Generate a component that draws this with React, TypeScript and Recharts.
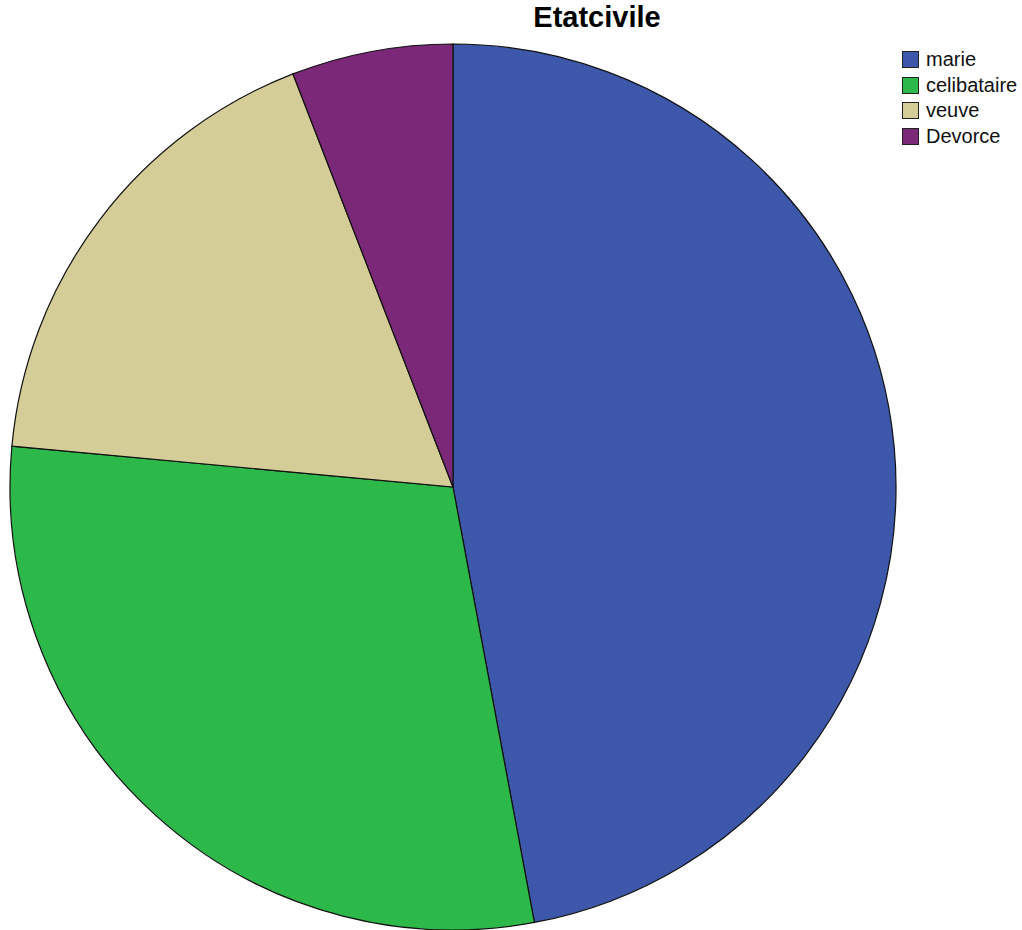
import { PieChart, Pie, Cell } from 'recharts';

const categories = ['marie', 'celibataire', 'veuve', 'Devorce'];
const counts = [40, 25, 15, 5];
const colors = ['#3D58AA', '#2DB84A', '#D4CD98', '#7B2878'];

const data = categories.map((name, i) => ({ name, value: counts[i] }));

const Legend = () => (
  <div style={{ position: 'absolute', left: 902, top: 47 }}>
    {categories.map((name, i) => (
      <div
        key={name}
        style={{ display: 'flex', alignItems: 'center', height: 25.5 }}
      >
        <div
          style={{
            width: 15,
            height: 15,
            background: colors[i],
            border: '1px solid #222',
            marginRight: 7,
          }}
        />
        <span
          style={{
            fontFamily: 'Arial, "Liberation Sans", sans-serif',
            fontSize: 20,
            color: '#111',
          }}
        >
          {name}
        </span>
      </div>
    ))}
  </div>
);

export default function App() {
  return (
    <div
      style={{
        position: 'absolute',
        left: 0,
        top: 0,
        width: 1022,
        height: 930,
        background: '#fff',
        overflow: 'hidden',
      }}
    >
      <div
        style={{
          position: 'absolute',
          left: 0,
          width: 1194,
          top: 1,
          textAlign: 'center',
          fontFamily: 'Arial, "Liberation Sans", sans-serif',
          fontWeight: 'bold',
          fontSize: 29,
          color: '#000',
        }}
      >
        Etatcivile
      </div>
      <PieChart
        width={1022}
        height={930}
        margin={{ top: 0, right: 0, bottom: 0, left: 0 }}
        style={{ position: 'absolute', left: 0, top: 0 }}
      >
        <Pie
          data={data}
          dataKey="value"
          nameKey="name"
          cx={453}
          cy={487}
          outerRadius={443}
          startAngle={90}
          endAngle={-270}
          stroke="#111"
          strokeWidth={1.2}
          isAnimationActive={false}
        >
          {data.map((d, i) => (
            <Cell key={d.name} fill={colors[i]} />
          ))}
        </Pie>
      </PieChart>
      <Legend />
    </div>
  );
}
